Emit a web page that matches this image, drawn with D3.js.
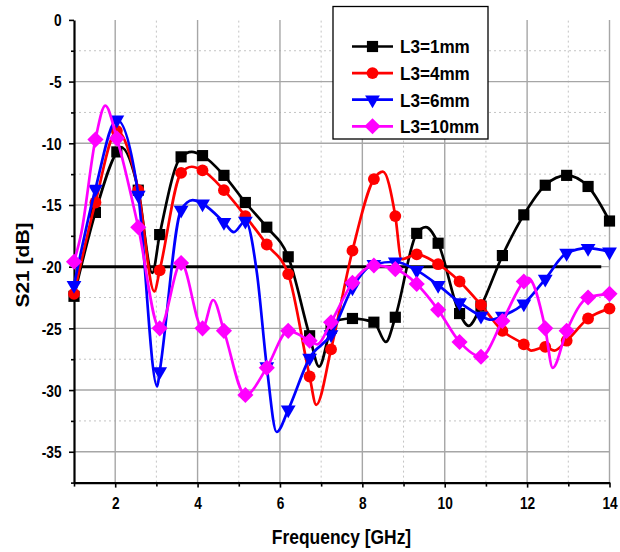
<!DOCTYPE html>
<html><head><meta charset="utf-8">
<script src="https://cdn.jsdelivr.net/npm/d3@7"></script>
<style>
body{margin:0;background:#fff}
svg{display:block}
text{font-family:"Liberation Sans",Arial,Helvetica,sans-serif;font-weight:bold;fill:#000}
</style>
</head><body>
<svg id="c" width="620" height="552"></svg>
<script>
// ---------- data ----------
const markerFreq = [1.00,1.52,2.04,2.56,3.08,3.60,4.12,4.64,5.16,5.68,6.20,6.72,7.24,7.76,8.28,8.80,9.32,9.84,10.36,10.88,11.40,11.92,12.44,12.96,13.48,14.00];

const seriesNames  = ["L3=1mm","L3=4mm","L3=6mm","L3=10mm"];
const seriesColors = ["#000000","#ff0000","#0000ff","#ff00ff"];
const seriesSymbols = ["square","circle","triangleDown","diamond"];

// values at the marker frequencies (dB)
const mm1Values  = [-22.4,-15.6,-10.7,-13.8,-17.4,-11.1,-11.0,-12.6,-14.8,-16.8,-19.2,-25.6,-25.0,-24.2,-24.5,-24.1,-17.3,-18.1,-23.8,-23.2,-19.1,-15.8,-13.4,-12.6,-13.5,-16.3];
const mm4Values  = [-22.2,-14.8,-9.0,-13.8,-20.3,-12.4,-12.2,-13.8,-15.9,-18.2,-20.6,-28.9,-26.7,-18.7,-12.9,-15.9,-19.0,-19.8,-21.2,-23.1,-25.2,-26.3,-26.5,-26.0,-24.2,-23.4];
const mm6Values  = [-21.5,-13.7,-8.1,-14.2,-28.5,-15.4,-14.9,-16.4,-16.3,-28.1,-31.6,-27.4,-25.5,-21.7,-19.8,-19.6,-20.3,-21.5,-22.9,-24.0,-24.0,-23.0,-21.0,-18.9,-18.5,-18.8];
const mm10Values = [-19.6,-9.7,-9.6,-16.8,-25.0,-19.7,-25.0,-25.2,-30.4,-28.2,-25.2,-26.0,-24.5,-21.3,-19.9,-20.2,-21.4,-23.5,-26.1,-27.3,-24.4,-21.2,-25.0,-25.2,-22.5,-22.2];

// extra curve points between markers (peaks / dips of the smooth curve)
const mm1ExtraFreq  = [1.10,2.14,2.90,3.86,6.95,7.46,8.57,9.54,10.58];
const mm1ExtraVal   = [-21.0,-10.3,-20.5,-10.7,-28.1,-24.3,-26.1,-16.8,-24.8];
const mm4ExtraFreq  = [2.95,3.86,6.88,8.50,8.95,12.10,12.66];
const mm4ExtraVal   = [-22.0,-11.9,-31.2,-12.3,-19.4,-26.8,-26.8];
const mm6ExtraFreq  = [3.02,3.88,4.88,5.44,5.92,11.12];
const mm6ExtraVal   = [-29.7,-14.6,-17.2,-20.5,-33.4,-24.3];
const mm10ExtraFreq = [1.17,1.76,4.38,6.90,12.02,12.62];
const mm10ExtraVal  = [-17.4,-6.95,-22.7,-26.3,-20.9,-28.2];

const xMajorTicks = [2,4,6,8,10,12,14];
const xMinorTicks = [1,3,5,7,9,11,13];
const yMajorTicks = [0,-5,-10,-15,-20,-25,-30,-35];
const yMinorTicks = [-2.5,-7.5,-12.5,-17.5,-22.5,-27.5,-32.5,-37.5];
const thresholdLevel = -20;
const thresholdRange = [1.0, 13.8];

const xTitle = "Frequency [GHz]";
const yTitle = "S21 [dB]";

// ---------- chart ----------
const svg = d3.select("#c");
const x = d3.scaleLinear().domain([1,14]).range([74,609.5]);
const y = d3.scaleLinear().domain([-37.5,0]).range([482.6,19.9]);
const [x0,x1] = x.range(), [yb,yt] = y.range();

// grid
const grid = svg.append("g");
grid.selectAll(".gmx").data(xMinorTicks.filter(d=>d>1)).join("line")
  .attr("x1",d=>x(d)).attr("x2",d=>x(d)).attr("y1",yb).attr("y2",yt)
  .attr("stroke","#c4c4c4").attr("stroke-width",1).attr("stroke-dasharray","2,3");
grid.selectAll(".gmy").data(yMinorTicks.filter(d=>d>-37.5)).join("line")
  .attr("x1",x0).attr("x2",x1).attr("y1",d=>y(d)).attr("y2",d=>y(d))
  .attr("stroke","#c4c4c4").attr("stroke-width",1).attr("stroke-dasharray","2,3");
grid.selectAll(".gMx").data(xMajorTicks).join("line")
  .attr("x1",d=>x(d)).attr("x2",d=>x(d)).attr("y1",yb).attr("y2",yt)
  .attr("stroke","#a6a6a6").attr("stroke-width",1.4);
grid.selectAll(".gMy").data(yMajorTicks.filter(d=>d<0)).join("line")
  .attr("x1",x0).attr("x2",x1).attr("y1",d=>y(d)).attr("y2",d=>y(d))
  .attr("stroke","#a6a6a6").attr("stroke-width",1.4);

// axes
const fmt = d => String(d);
const gx = svg.append("g").attr("transform",`translate(0,${yb})`)
  .call(d3.axisBottom(x).tickValues(xMajorTicks).tickSize(5).tickSizeOuter(0).tickFormat(fmt));
const gxm = svg.append("g").attr("transform",`translate(0,${yb})`)
  .call(d3.axisBottom(x).tickValues(xMinorTicks).tickSize(4).tickSizeOuter(0).tickFormat(""));
const gy = svg.append("g").attr("transform",`translate(${x0},0)`)
  .call(d3.axisLeft(y).tickValues(yMajorTicks).tickSize(5).tickSizeOuter(0).tickFormat(fmt));
const gym = svg.append("g").attr("transform",`translate(${x0},0)`)
  .call(d3.axisLeft(y).tickValues(yMinorTicks).tickSize(3).tickSizeOuter(0).tickFormat(""));
[gx,gxm,gy,gym].forEach(g=>{
  g.selectAll(".domain").attr("stroke","#000").attr("stroke-width",2.2);
  g.selectAll(".tick line").attr("stroke","#000").attr("stroke-width",1.6);
});
gxm.select(".domain").remove(); gym.select(".domain").remove();
gx.selectAll("text").attr("font-size",16.5).attr("y",26.4).attr("dy",0)
  .attr("font-family",'"Liberation Sans",Arial,sans-serif').attr("font-weight","bold")
  .attr("transform","scale(0.83,1)");
gy.selectAll("text").attr("font-size",16.5).attr("x",-15).attr("dy","0.36em")
  .attr("font-family",'"Liberation Sans",Arial,sans-serif').attr("font-weight","bold")
  .attr("transform","scale(0.83,1)");

// titles
svg.append("text").attr("transform","translate(341.5,544) scale(0.85,1)")
  .attr("text-anchor","middle").attr("font-size",20.5).text(xTitle);
svg.append("text").attr("transform","translate(29,265) rotate(-90) scale(1,0.85)")
  .attr("text-anchor","middle").attr("font-size",21).text(yTitle);

// threshold line
svg.append("line")
  .attr("x1",x(thresholdRange[0])).attr("x2",x(thresholdRange[1]))
  .attr("y1",y(thresholdLevel)).attr("y2",y(thresholdLevel))
  .attr("stroke","#000").attr("stroke-width",3);

// symbols
function symbolPath(kind){
  if(kind==="square") return d3.symbol(d3.symbolSquare,125)();
  if(kind==="circle") return d3.symbol(d3.symbolCircle,110)();
  if(kind==="triangleDown") return d3.symbol(d3.symbolTriangle,95)();
  return d3.symbol(d3.symbolSquare,130)();
}
function symbolRot(kind){
  if(kind==="triangleDown") return " rotate(180)";
  if(kind==="diamond") return " rotate(45)";
  return "";
}

const allValues = [mm1Values,mm4Values,mm6Values,mm10Values];
const allExtraF = [mm1ExtraFreq,mm4ExtraFreq,mm6ExtraFreq,mm10ExtraFreq];
const allExtraV = [mm1ExtraVal,mm4ExtraVal,mm6ExtraVal,mm10ExtraVal];

const line = d3.line().x(d=>x(d[0])).y(d=>y(d[1])).curve(d3.curveMonotoneX);

seriesNames.forEach((name,i)=>{
  const pts = markerFreq.map((f,j)=>[f,allValues[i][j]])
    .concat(allExtraF[i].map((f,j)=>[f,allExtraV[i][j]]))
    .sort((a,b)=>a[0]-b[0]);
  const g = svg.append("g");
  g.append("path").attr("d",line(pts)).attr("fill","none")
    .attr("stroke",seriesColors[i]).attr("stroke-width",2.7).attr("stroke-linejoin","round");
  g.selectAll("path.m").data(markerFreq.map((f,j)=>[f,allValues[i][j]])).join("path")
    .attr("class","m")
    .attr("d",symbolPath(seriesSymbols[i]))
    .attr("transform",d=>`translate(${x(d[0])},${y(d[1])})${symbolRot(seriesSymbols[i])}`)
    .attr("fill",seriesColors[i]);
});

// legend
const lg = svg.append("g");
lg.append("rect").attr("x",333).attr("y",6.5).attr("width",155).attr("height",132.5)
  .attr("fill","#fff").attr("stroke","#000").attr("stroke-width",1.3);
seriesNames.forEach((name,i)=>{
  const ry = 46.5 + i*26.6;
  lg.append("line").attr("x1",352).attr("x2",393).attr("y1",ry).attr("y2",ry)
    .attr("stroke",seriesColors[i]).attr("stroke-width",2.7);
  lg.append("path").attr("d",symbolPath(seriesSymbols[i]))
    .attr("transform",`translate(372.5,${ry})${symbolRot(seriesSymbols[i])}`)
    .attr("fill",seriesColors[i]);
  lg.append("text").attr("transform",`translate(400,${ry+6.8}) scale(0.9,1)`)
    .attr("font-size",19).text(name);
});
</script>
</body></html>
